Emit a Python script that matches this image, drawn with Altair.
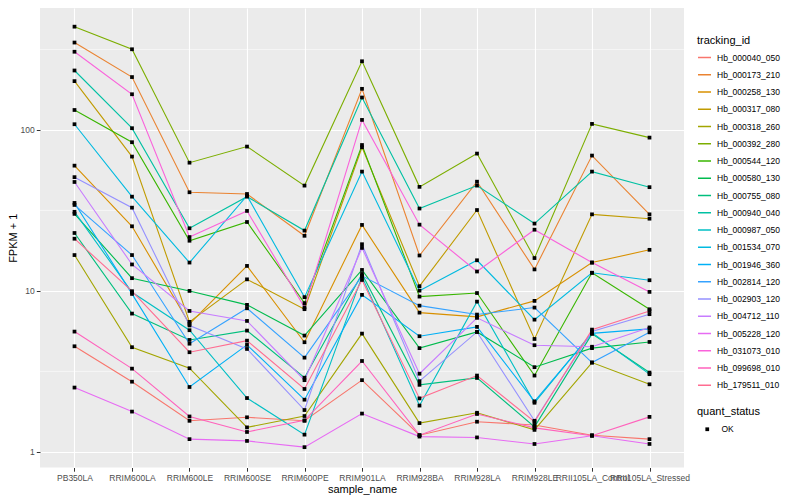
import altair as alt
import pandas as pd

samples = ["PB350LA", "RRIM600LA", "RRIM600LE", "RRIM600SE", "RRIM600PE", "RRIM901LA",
           "RRIM928BA", "RRIM928LA", "RRIM928LE", "RRII105LA_Control", "RRII105LA_Stressed"]

tracking_ids = ["Hb_000040_050", "Hb_000173_210", "Hb_000258_130", "Hb_000317_080",
                "Hb_000318_260", "Hb_000392_280", "Hb_000544_120", "Hb_000580_130",
                "Hb_000755_080", "Hb_000940_040", "Hb_000987_050", "Hb_001534_070",
                "Hb_001946_360", "Hb_002814_120", "Hb_002903_120", "Hb_004712_110",
                "Hb_005228_120", "Hb_031073_010", "Hb_099698_010", "Hb_179511_010"]

palette = ["#F8766D", "#EA8331", "#D89000", "#C09B00", "#A3A500", "#7CAE00", "#39B600",
           "#00BB4E", "#00BF7D", "#00C1A3", "#00BFC4", "#00BAE0", "#00B0F6", "#35A2FF",
           "#9590FF", "#C77CFF", "#E76BF3", "#FA62DB", "#FF62BC", "#FF6C91"]

# FPKM + 1 per sample, in the order of `samples`
hb_000040_050 = [4.53, 2.73, 1.56, 1.64, 1.56, 2.79, 1.27, 1.54, 1.47, 1.27, 1.20]
hb_000173_210 = [349, 213, 41.0, 40.0, 22.0, 180, 16.6, 47.7, 13.6, 69.3, 29.9]
hb_000258_130 = [60.0, 25.2, 6.24, 14.3, 4.80, 25.7, 7.33, 6.90, 8.67, 15.0, 18.0]
hb_000317_080 = [201, 68.3, 6.42, 11.8, 7.70, 78.0, 10.7, 31.8, 5.03, 29.9, 28.1]
hb_000318_260 = [16.7, 4.47, 3.31, 1.42, 1.67, 5.43, 1.51, 1.75, 1.37, 3.59, 2.63]
hb_000392_280 = [438, 317, 62.6, 78.8, 45.1, 267, 44.3, 71.3, 16.0, 109, 89.6]
hb_000544_120 = [133, 83.9, 20.5, 26.8, 8.40, 80.6, 9.22, 9.70, 2.98, 12.96, 7.69]
hb_000580_130 = [30.1, 12.0, 10.0, 8.19, 5.28, 13.5, 4.41, 5.56, 3.36, 4.41, 4.82]
hb_000755_080 = [22.9, 7.23, 4.96, 5.67, 2.89, 12.75, 2.61, 2.88, 1.43, 5.41, 3.11]
hb_000940_040 = [234, 102.5, 24.5, 38.5, 23.7, 159, 32.5, 45.1, 26.2, 55.1, 44.1]
hb_000987_050 = [31.0, 9.80, 5.70, 2.16, 1.28, 12.27, 1.94, 8.58, 2.02, 5.50, 3.04]
hb_001534_070 = [108.5, 38.5, 15.0, 39.0, 9.15, 55.1, 10.04, 15.5, 6.63, 12.96, 11.65]
hb_001946_360 = [35.2, 9.58, 2.53, 4.62, 2.11, 9.45, 5.23, 5.98, 2.06, 5.45, 5.81]
hb_002814_120 = [34.2, 16.7, 4.70, 7.80, 3.85, 12.4, 8.10, 7.13, 7.88, 3.59, 5.53]
hb_002903_120 = [50.9, 32.9, 6.10, 4.36, 1.82, 19.5, 2.75, 5.56, 1.56, 5.60, 7.17]
hb_004712_110 = [47.5, 14.6, 7.51, 6.51, 2.79, 18.5, 3.06, 6.80, 4.60, 4.50, 5.93]
hb_005228_120 = [2.51, 1.78, 1.20, 1.17, 1.07, 1.73, 1.245, 1.23, 1.12, 1.26, 1.12]
hb_031073_010 = [306, 166.6, 21.6, 31.4, 7.90, 115.4, 25.8, 13.2, 24.0, 15.0, 9.86]
hb_099698_010 = [5.59, 3.29, 1.66, 1.33, 1.57, 3.67, 1.27, 1.72, 1.41, 1.26, 1.65]
hb_179511_010 = [21.1, 9.96, 4.16, 4.91, 2.46, 11.7, 2.15, 2.98, 1.54, 5.75, 7.51]

series_values = [hb_000040_050, hb_000173_210, hb_000258_130, hb_000317_080, hb_000318_260,
                 hb_000392_280, hb_000544_120, hb_000580_130, hb_000755_080, hb_000940_040,
                 hb_000987_050, hb_001534_070, hb_001946_360, hb_002814_120, hb_002903_120,
                 hb_004712_110, hb_005228_120, hb_031073_010, hb_099698_010, hb_179511_010]

y_breaks = [1, 10, 100]
minor_breaks = [3.1623, 31.623, 316.23]

rows = []
for tid, vals in zip(tracking_ids, series_values):
    for i, (s, v) in enumerate(zip(samples, vals)):
        rows.append({"tracking_id": tid, "sample_name": s, "idx": i,
                     "fpkm1": v, "quant_status": "OK"})
df = pd.DataFrame(rows)
minor_df = pd.DataFrame({"fpkm1": minor_breaks})

FONT = "Liberation Sans"

x_enc = alt.X("sample_name:N", sort=samples,
              scale=alt.Scale(type="point", padding=0.6),
              axis=alt.Axis(title="sample_name", labelAngle=0, labelOverlap=False,
                            labelPadding=2, tickSize=3.7, titlePadding=2))
y_enc = alt.Y("fpkm1:Q",
              scale=alt.Scale(type="log", domain=[0.8, 572], nice=False),
              axis=alt.Axis(title="FPKM + 1", values=y_breaks, format=".0f",
                            tickSize=3.7, labelPadding=2, titlePadding=2))

minor = alt.Chart(minor_df).mark_rule(color="white", strokeWidth=0.55).encode(y=y_enc)

lines = alt.Chart(df).mark_line(strokeWidth=1.1).encode(
    x=x_enc, y=y_enc,
    order=alt.Order("idx:Q"),
    color=alt.Color("tracking_id:N",
                    scale=alt.Scale(domain=tracking_ids, range=palette),
                    legend=alt.Legend(title="tracking_id", orient="none",
                                      legendX=657, legendY=27,
                                      symbolType="stroke", symbolSize=169,
                                      symbolStrokeWidth=1.5, rowPadding=5.25,
                                      labelOffset=5, titlePadding=4)),
)

points = alt.Chart(df).mark_point(filled=True, color="black", size=14, opacity=1).encode(
    x=x_enc, y=y_enc,
    shape=alt.Shape("quant_status:N",
                    scale=alt.Scale(domain=["OK"], range=["square"]),
                    legend=alt.Legend(title="quant_status", orient="none",
                                      legendX=657, legendY=398,
                                      symbolFillColor="black", symbolStrokeColor="black",
                                      symbolSize=14, symbolOffset=6, labelOffset=10,
                                      titlePadding=8)),
)

chart = alt.layer(minor, lines, points).properties(
    width=644, height=459.5,
    autosize=alt.AutoSizeParams(type="none"),
    padding={"left": 32, "top": 0, "right": 108, "bottom": 30},
    background="white",
).configure_view(
    fill="#EBEBEB", stroke=None
).configure_axis(
    domain=False, grid=True, gridColor="white", gridWidth=1.1,
    tickColor="#333333", labelColor="#4D4D4D", labelFont=FONT, labelFontSize=8.5,
    titleFont=FONT, titleFontSize=11, titleFontWeight="normal", titleColor="black",
).configure_legend(
    titleFont=FONT, titleFontSize=11, titleFontWeight="normal", titleColor="black",
    labelFont=FONT, labelFontSize=8.5, labelColor="black", padding=0,
)

chart.save("out.html", embed_options={"renderer": "svg", "actions": False})
